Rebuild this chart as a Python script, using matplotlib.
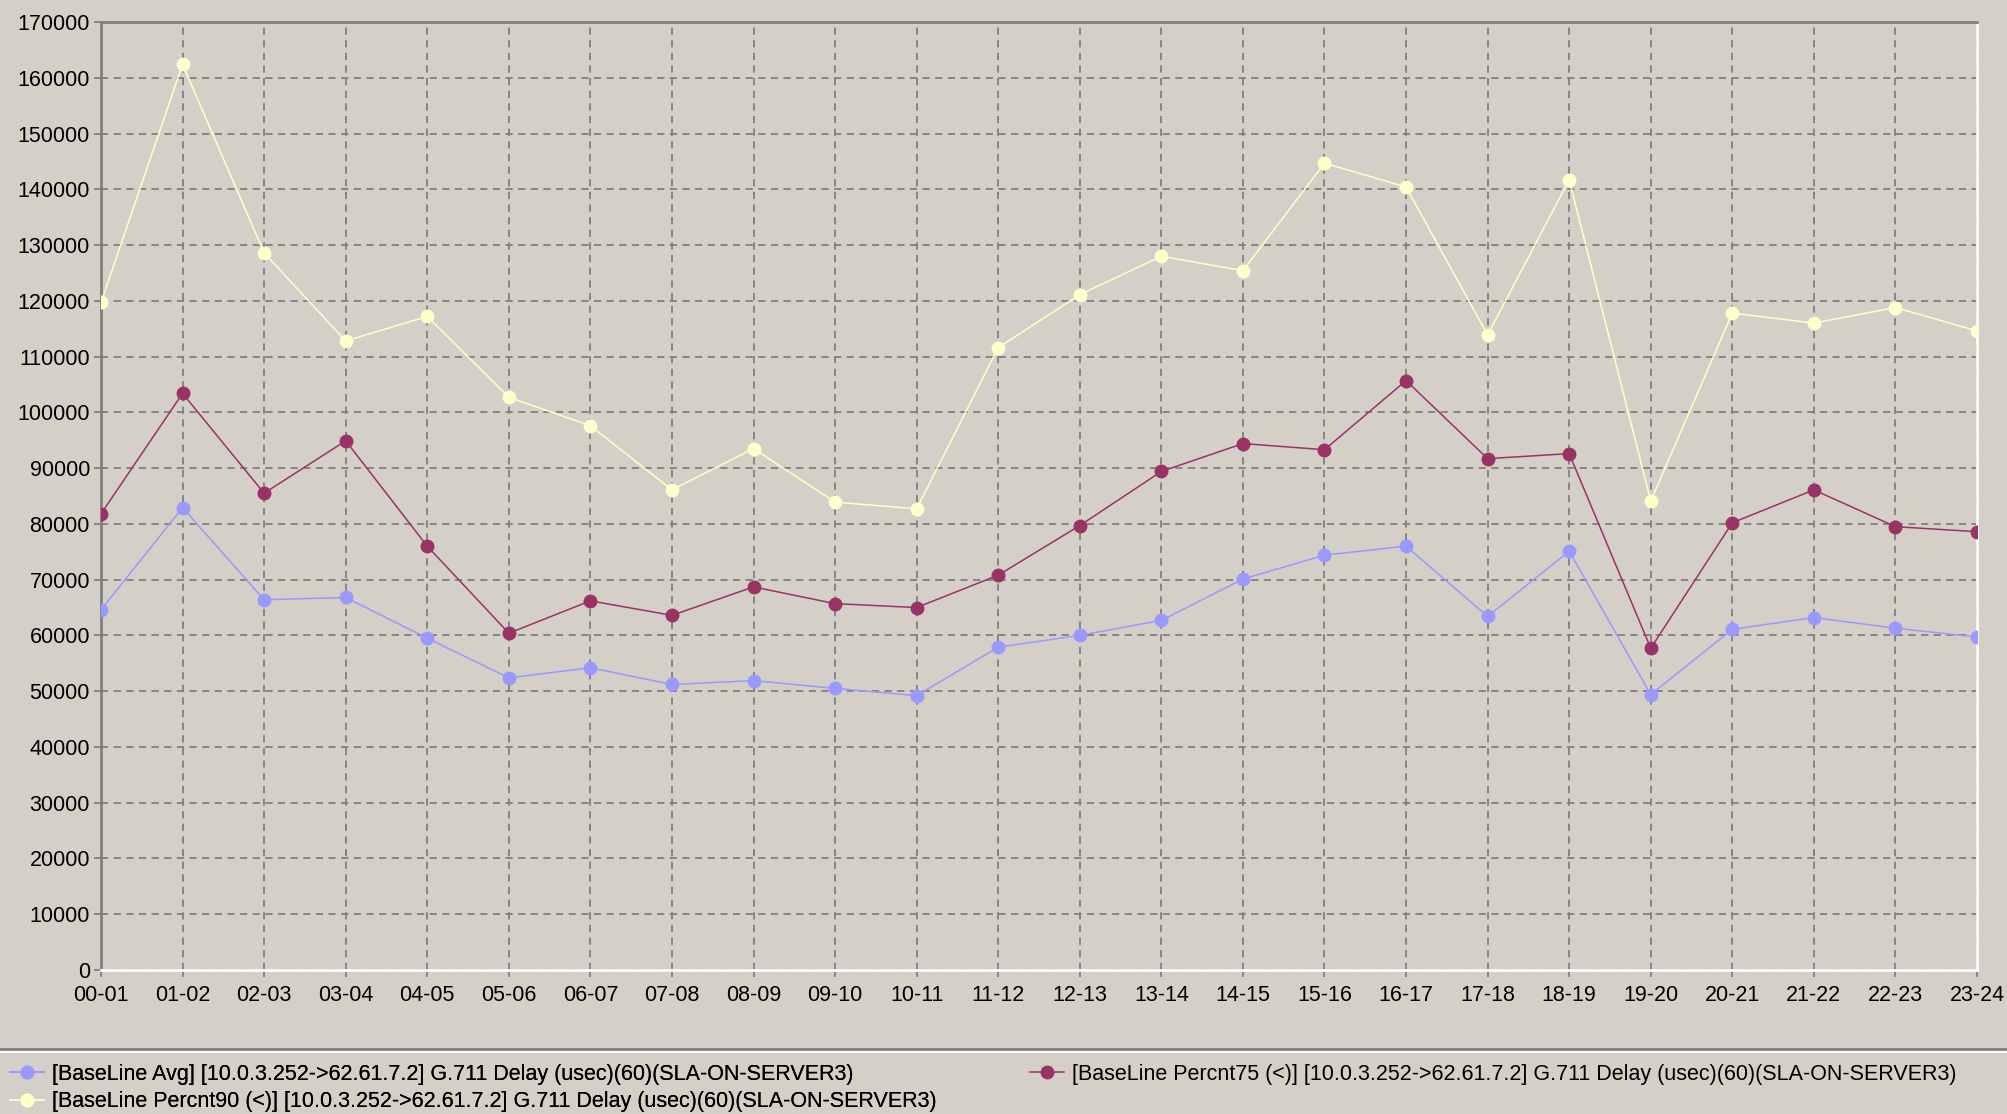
import matplotlib
matplotlib.use("Agg")
import matplotlib.pyplot as plt
from matplotlib.lines import Line2D

# time slots on the x axis
slots = ["00-01", "01-02", "02-03", "03-04", "04-05", "05-06", "06-07", "07-08",
         "08-09", "09-10", "10-11", "11-12", "12-13", "13-14", "14-15", "15-16",
         "16-17", "17-18", "18-19", "19-20", "20-21", "21-22", "22-23", "23-24"]

# delay values (usec)
avg = [64600, 82900, 66400, 66800, 59500, 52400, 54200, 51200,
       51900, 50500, 49200, 57900, 60000, 62700, 70100, 74400,
       76000, 63400, 75100, 49400, 61100, 63200, 61300, 59700]
p75 = [81800, 103400, 85500, 94900, 76000, 60400, 66200, 63600,
       68700, 65700, 65000, 70800, 79700, 89400, 94400, 93300,
       105700, 91700, 92600, 57700, 80200, 86100, 79500, 78600]
p90 = [119700, 162400, 128600, 112800, 117200, 102700, 97600, 86100,
       93500, 83900, 82700, 111600, 121100, 128000, 125400, 144700,
       140400, 113900, 141700, 84100, 117800, 116000, 118800, 114600]

yticks = list(range(0, 170001, 10000))

names = ["[BaseLine Avg] [10.0.3.252->62.61.7.2] G.711 Delay (usec)(60)(SLA-ON-SERVER3)",
         "[BaseLine Percnt75 (<)] [10.0.3.252->62.61.7.2] G.711 Delay (usec)(60)(SLA-ON-SERVER3)",
         "[BaseLine Percnt90 (<)] [10.0.3.252->62.61.7.2] G.711 Delay (usec)(60)(SLA-ON-SERVER3)"]
colors = ["#9999ff", "#993366", "#ffffcc"]

bg = "#d4d0c8"
plt.rcParams['font.family'] = ['Liberation Sans', 'DejaVu Sans']
fs = 15.5

fig = plt.figure(figsize=(20.08, 11.14), dpi=100, facecolor=bg)
ax = fig.add_axes([101 / 2008, 1 - 970 / 1114, 1876 / 2008, 948 / 1114])
ax.set_facecolor(bg)

x = list(range(len(slots)))
lines = []
for vals, c, n in zip([avg, p75, p90], colors, names):
    l, = ax.plot(x, vals, color=c, lw=1.1, marker='o', ms=9, mec=c, mfc=c, label=n, zorder=3)
    lines.append(l)

ax.set_xlim(0, len(slots) - 1)
ax.set_ylim(0, 170000)
ax.set_xticks(x)
ax.set_xticklabels(slots)
ax.set_yticks(yticks)
ax.set_yticklabels([str(v) for v in yticks])
ax.tick_params(labelsize=fs, colors='#808080', labelcolor='black', length=5, width=1.3)
ax.tick_params(axis='x', pad=6)
ax.tick_params(axis='y', pad=3)

ax.grid(True, color='#808080', lw=1.3, dashes=(4, 3))

ax.spines['left'].set_color('#808080')
ax.spines['top'].set_color('#808080')
ax.spines['right'].set_color('white')
ax.spines['bottom'].set_color('white')
for s in ax.spines.values():
    s.set_linewidth(2)

# separator above the legend panel
fig.add_artist(Line2D([0, 1], [1 - 1049 / 1114, 1 - 1049 / 1114], color='#808080', lw=2))
fig.add_artist(Line2D([0, 1], [1 - 1052 / 1114, 1 - 1052 / 1114], color='white', lw=1.5))

leg_kw = dict(loc='upper left', frameon=False, fontsize=fs, handlelength=1.6,
              handletextpad=0.35, labelspacing=0.3, borderaxespad=0, borderpad=0)
leg1 = fig.legend([lines[0], lines[2]], [names[0], names[2]],
                  bbox_to_anchor=(10 / 2008, 1 - 1064 / 1114), **leg_kw)
fig.add_artist(leg1)
fig.legend([lines[1]], [names[1]],
           bbox_to_anchor=(1030 / 2008, 1 - 1064 / 1114), **leg_kw)

fig.savefig("out.png", dpi=100, facecolor=bg)
